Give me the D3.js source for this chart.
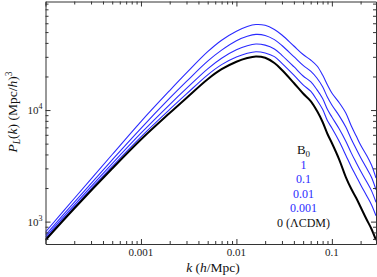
<!DOCTYPE html>
<html>
<head>
<meta charset="utf-8">
<script src="https://cdn.jsdelivr.net/npm/d3@7"></script>
<style>
body { margin: 0; background: #fff; }
svg { display: block; }
</style>
</head>
<body>
<svg width="377" height="277" font-family="'Liberation Serif', 'Times New Roman', Times, serif"></svg>
<script>
// k in h/Mpc, P_L(k) in (Mpc/h)^3
var kValues = [0.0001, 0.0002, 0.0005, 0.001, 0.002, 0.003, 0.005, 0.007, 0.01, 0.013, 0.016, 0.02, 0.025, 0.03, 0.04, 0.05, 0.06, 0.07, 0.08, 0.09, 0.1, 0.12, 0.14, 0.16, 0.18, 0.2, 0.23, 0.26, 0.29];
var pB1 = [807, 1611, 3995, 7893, 14970, 21530, 33350, 42290, 50900, 56100, 58460, 57500, 52720, 47060, 37510, 31470, 28090, 24820, 20610, 16770, 14220, 11570, 9408, 7194, 5853, 4860, 3954, 3217, 2459];
var pB01 = [758, 1489, 3581, 6860, 12770, 18060, 27460, 34460, 41840, 45810, 47650, 46680, 42800, 37900, 30080, 25130, 22340, 19290, 16160, 13010, 11100, 8824, 7032, 5477, 4475, 3763, 3036, 2500, 1928];
var pB001 = [725, 1408, 3311, 6200, 11210, 15630, 23430, 29160, 34680, 37750, 39090, 38220, 35330, 30950, 24460, 20200, 17950, 15160, 12690, 10110, 8661, 6735, 5257, 4111, 3373, 2841, 2302, 1896, 1492];
var pB0001 = [701, 1352, 3125, 5756, 10130, 13950, 20700, 25550, 29840, 32260, 33340, 32530, 30140, 26190, 20530, 16800, 14750, 12250, 10150, 8009, 6902, 5192, 3938, 3087, 2548, 2142, 1721, 1417, 1127];
var pLCDM = [684, 1310, 2992, 5443, 9408, 12850, 18900, 23230, 27130, 29280, 30210, 29400, 26400, 22850, 17480, 14070, 12050, 9804, 7812, 6100, 5066, 3566, 2510, 1960, 1628, 1352, 1055, 859, 684];

var legendTitle = "B";
var legendLabels = ["1", "0.1", "0.01", "0.001", "0 (\u039BCDM)"];
var xTickValues = [0.001, 0.01, 0.1];
var xTickLabels = ["0.001", "0.01", "0.1"];
var yTickPowers = [3, 4];

var blue = "#2a2aff";
var series = [
    {name: "1", values: pB1, color: blue, width: 1.1},
    {name: "0.1", values: pB01, color: blue, width: 1.1},
    {name: "0.01", values: pB001, color: blue, width: 1.1},
    {name: "0.001", values: pB0001, color: blue, width: 1.1},
    {name: "0", values: pLCDM, color: "#000", width: 2}
];

var svg = d3.select("svg"),
        margin = {top: 1.5, right: 1, bottom: 33, left: 45.5},
        width = +svg.attr("width") - margin.left - margin.right,
        height = +svg.attr("height") - margin.top - margin.bottom,
        g = svg.append("g").attr("transform", "translate(" + margin.left + "," + margin.top + ")");

var x = d3.scaleLog().domain([1e-4, 0.29]).range([0, width]);
var y = d3.scaleLog().domain([630, 94000]).range([height, 0]);

function isMajor(d) {
    var l = Math.log10(d);
    return Math.abs(l - Math.round(l)) < 1e-6;
}

g.append("defs").append("clipPath").attr("id", "clip")
        .append("rect").attr("width", width).attr("height", height);

var line = d3.line()
        .x(function (d, i) { return x(kValues[i]); })
        .y(function (d) { return y(d); })
        .curve(d3.curveCatmullRom.alpha(0.5));

g.append("g").attr("clip-path", "url(#clip)")
        .selectAll("path")
        .data(series)
        .enter().append("path")
        .attr("fill", "none")
        .attr("stroke", function (d) { return d.color; })
        .attr("stroke-width", function (d) { return d.width; })
        .attr("stroke-linejoin", "round")
        .attr("d", function (d) { return line(d.values); });

// axes, ticks pointing inward on all four sides
var xt = x.ticks(), yt = y.ticks();
function styleAxis(sel, sign, horiz) {
    sel.select(".domain").attr("stroke", "#333");
    sel.selectAll(".tick line")
            .attr("stroke", "#333")
            .attr(horiz ? "y2" : "x2", function (d) { return sign * (isMajor(d) ? 5 : 3); });
}
g.append("g").attr("transform", "translate(0," + height + ")")
        .call(d3.axisBottom(x).tickValues(xt).tickSizeOuter(0).tickFormat(""))
        .call(styleAxis, -1, true);
g.append("g")
        .call(d3.axisTop(x).tickValues(xt).tickSizeOuter(0).tickFormat(""))
        .call(styleAxis, 1, true);
g.append("g")
        .call(d3.axisLeft(y).tickValues(yt).tickSizeOuter(0).tickFormat(""))
        .call(styleAxis, 1, false);
g.append("g").attr("transform", "translate(" + width + ",0)")
        .call(d3.axisRight(y).tickValues(yt).tickSizeOuter(0).tickFormat(""))
        .call(styleAxis, -1, false);

g.selectAll(".xlab")
        .data(xTickValues)
        .enter().append("text")
        .attr("x", function (d) { return x(d); })
        .attr("y", height + 12)
        .attr("text-anchor", "middle")
        .attr("font-size", 11)
        .attr("fill", "#222")
        .text(function (d, i) { return xTickLabels[i]; });

var ylab = g.selectAll(".ylab")
        .data(yTickPowers)
        .enter().append("text")
        .attr("x", -3)
        .attr("y", function (d) { return y(Math.pow(10, d)) + 4; })
        .attr("text-anchor", "end")
        .attr("font-size", 11)
        .attr("fill", "#222");
ylab.append("tspan").text("10");
ylab.append("tspan").attr("font-size", 8).attr("dy", -5).text(function (d) { return d; });

// axis titles
var xTitle = g.append("text")
        .attr("x", 213 - margin.left)
        .attr("y", height + 28)
        .attr("text-anchor", "middle")
        .attr("font-size", 13.5)
        .attr("fill", "#111");
xTitle.append("tspan").attr("font-style", "italic").text("k");
xTitle.append("tspan").text(" (");
xTitle.append("tspan").attr("font-style", "italic").text("h");
xTitle.append("tspan").text("/Mpc)");

var yTitle = g.append("text")
        .attr("transform", "translate(" + (17 - margin.left) + "," + (112 - margin.top) + ") rotate(-90)")
        .attr("text-anchor", "middle")
        .attr("font-size", 13.5)
        .attr("fill", "#111");
yTitle.append("tspan").attr("font-style", "italic").text("P");
yTitle.append("tspan").attr("font-style", "italic").attr("font-size", 9.5).attr("dy", 3).text("L");
yTitle.append("tspan").attr("dy", -3).text("(");
yTitle.append("tspan").attr("font-style", "italic").text("k");
yTitle.append("tspan").text(") (Mpc/");
yTitle.append("tspan").attr("font-style", "italic").text("h");
yTitle.append("tspan").text(")");
yTitle.append("tspan").attr("font-size", 9.5).attr("dy", -5).text("3");

// legend
var legendX = 303.5 - margin.left;
var title = g.append("text")
        .attr("x", legendX)
        .attr("y", 154 - margin.top)
        .attr("text-anchor", "middle")
        .attr("font-size", 13)
        .attr("fill", "#111");
title.append("tspan").text(legendTitle);
title.append("tspan").attr("font-size", 9).attr("dy", 3).text("0");

g.selectAll(".leg")
        .data(legendLabels)
        .enter().append("text")
        .attr("x", legendX)
        .attr("y", function (d, i) { return 168.5 - margin.top + i * 14.6; })
        .attr("text-anchor", "middle")
        .attr("font-size", 12)
        .attr("fill", function (d, i) { return series[i].color === "#000" ? "#111" : series[i].color; })
        .text(function (d) { return d; });
</script>
</body>
</html>
